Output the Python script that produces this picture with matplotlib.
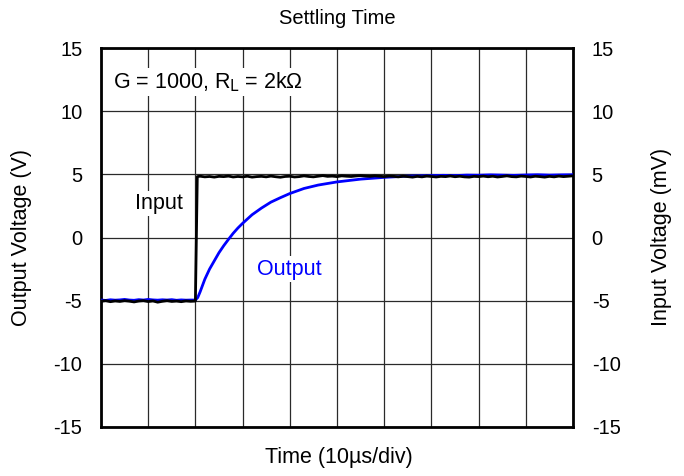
import numpy as np
import matplotlib
matplotlib.use("Agg")
import matplotlib.pyplot as plt

plt.rcParams['font.family'] = ['Liberation Sans', 'DejaVu Sans']
plt.rcParams['mathtext.default'] = 'regular'
plt.rcParams['axes.unicode_minus'] = False

# ---------------- data (time in divisions of 10 us) ----------------
t_low = [0.0, 0.1, 0.2, 0.3, 0.4, 0.5, 0.6, 0.7, 0.8, 0.9, 1.0,
         1.1, 1.2, 1.3, 1.4, 1.5, 1.6, 1.7, 1.8, 1.9, 2.0]
input_low = [-5.05, -5.0, -5.08, -5.02, -5.06, -5.0, -5.04, -5.1, -5.03, -5.0, -5.07,
             -5.02, -5.12, -5.05, -5.0, -5.06, -5.03, -5.08, -5.02, -5.05, -5.03]
output_low = [-4.95, -4.98, -4.93, -4.96, -4.94, -4.9, -4.95, -4.97, -4.92, -4.95, -4.9,
              -4.94, -4.96, -4.93, -4.95, -4.92, -4.97, -4.94, -4.96, -4.95, -4.95]

t_step = [2.04]
input_step = [4.82]

t_high = [round(2.1 + 0.1 * i, 2) for i in range(80)]
input_high = [4.85, 4.8, 4.83, 4.78, 4.84, 4.82, 4.86, 4.79, 4.83, 4.8,
              4.85, 4.78, 4.82, 4.84, 4.8, 4.86, 4.81, 4.77, 4.83, 4.85,
              4.79, 4.82, 4.88, 4.83, 4.8, 4.85, 4.9, 4.84, 4.86, 4.82,
              4.88, 4.85, 4.83, 4.87, 4.9, 4.86, 4.84, 4.88, 4.85, 4.82,
              4.86, 4.84, 4.8, 4.85, 4.82, 4.78, 4.84, 4.8, 4.86, 4.83,
              4.79, 4.84, 4.82, 4.87, 4.81, 4.85, 4.8, 4.78, 4.84, 4.82,
              4.86, 4.81, 4.85, 4.79, 4.83, 4.88, 4.82, 4.8, 4.86, 4.83,
              4.79, 4.85, 4.82, 4.78, 4.84, 4.8, 4.86, 4.82, 4.85, 4.88]

t_rise = [2.05, 2.1, 2.2, 2.3, 2.4, 2.5, 2.6, 2.7, 2.8, 2.9, 3.0, 3.2, 3.4, 3.6,
          3.8, 4.0, 4.3, 4.6, 5.0, 5.5, 6.0, 6.5, 7.0, 7.25, 7.5, 7.75, 8.0, 8.25,
          8.5, 8.75, 9.0, 9.25, 9.5, 9.75, 10.0]
output_rise = [-4.75, -4.3, -3.3, -2.5, -1.85, -1.2, -0.65, -0.15, 0.33, 0.75, 1.12,
               1.8, 2.33, 2.8, 3.15, 3.48, 3.88, 4.15, 4.4, 4.62, 4.76, 4.86, 4.9,
               4.92, 4.9, 4.94, 4.93, 4.96, 4.94, 4.92, 4.95, 4.97, 4.94, 4.96, 4.97]

y_ticks = [-15, -10, -5, 0, 5, 10, 15]
n_div = 10

t_in = t_low + t_step + t_high
v_in = input_low + input_step + input_high
t_out = t_low + t_rise
v_out = output_low + output_rise

# ---------------- figure ----------------
fig = plt.figure(figsize=(6.84, 4.76), dpi=100)
ax = fig.add_axes([101 / 684, 1 - 427 / 476, 472 / 684, 379 / 476])

ax.set_xlim(0, n_div)
ax.set_ylim(-15, 15)
ax.set_xticks(range(0, n_div + 1))
ax.set_yticks(y_ticks)
ax.set_xticklabels([])
ax.grid(True, color='#2a2a2a', linewidth=0.9)
ax.set_axisbelow(True)
ax.tick_params(axis='both', length=0, labelsize=14.5)
ax.tick_params(axis='y', pad=13.5)
for s in ax.spines.values():
    s.set_linewidth(2)
    s.set_color('black')

ax.plot(t_out, v_out, color='#0000ff', linewidth=2, zorder=3)
ax.plot(t_in, v_in, color='black', linewidth=2, zorder=4)

ax2 = ax.twinx()
ax2.set_ylim(-15, 15)
ax2.set_yticks(y_ticks)
ax2.tick_params(axis='y', length=0, labelsize=14.5, pad=13.5)
for s in ax2.spines.values():
    s.set_visible(False)

bbox = dict(facecolor='white', edgecolor='none', pad=1.5)
ax.text(0.25, 12.3, 'G = 1000, R$_\\mathrm{L}$ = 2k\u03a9', fontsize=15.5,
        ha='left', va='center', bbox=bbox, zorder=5)
ax.text(0.72, 2.7, 'Input', fontsize=15.5, ha='left', va='center', bbox=bbox, zorder=5)
ax.text(3.3, -2.5, 'Output', fontsize=15.5, color='#0000ff', ha='left', va='center',
        bbox=bbox, zorder=5)

fig.text(337 / 684, 1 - 18 / 476, 'Settling Time', fontsize=14.5, ha='center', va='center')
fig.text(339 / 684, 1 - 458 / 476, 'Time (10\u00b5s/div)', fontsize=15.5, ha='center', va='center')
fig.text(22 / 684, 1 - 237 / 476, 'Output Voltage (V)', fontsize=15.5, rotation=90,
         ha='center', va='center')
fig.text(662 / 684, 1 - 237 / 476, 'Input Voltage (mV)', fontsize=15.5, rotation=90,
         ha='center', va='center')

fig.savefig('out.png', dpi=100)
